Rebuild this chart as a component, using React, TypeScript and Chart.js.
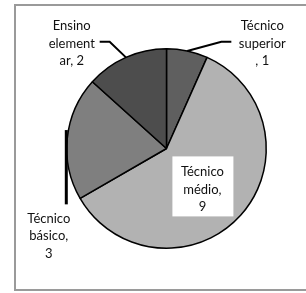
import React, { useEffect, useRef } from "react";
import { Chart, registerables } from "chart.js";

Chart.register(...registerables);

const categories = ["Técnico superior", "Técnico médio", "Técnico básico", "Ensino elementar"];
const values = [1, 9, 3, 2];
const labelLines = [
  ["Técnico", "superior", ", 1"],
  ["Técnico", "médio,", "9"],
  ["Técnico", "básico,", "3"],
  ["Ensino", "element", "ar, 2"],
];
const colors = ["#5f5f5f", "#b2b2b2", "#7f7f7f", "#4d4d4d"];

// label placement relative to pie center, in radius units
const labelPos = [
  { dx: 0.96, dy: -1.05 },
  { dx: 0.36, dy: 0.41 },
  { dx: -1.18, dy: 0.88 },
  { dx: -0.95, dy: -1.05 },
];

const FONT = "13px Lato, 'Open Sans', sans-serif";
const LINE_H = 17.5;

const labelPlugin = {
  id: "excelLabels",
  beforeDraw(chart: any) {
    const ctx = chart.ctx;
    ctx.save();
    ctx.fillStyle = "#ffffff";
    ctx.fillRect(0, 0, chart.width, chart.height);
    ctx.strokeStyle = "#9a9a9a";
    ctx.lineWidth = 2;
    ctx.strokeRect(15, 5, chart.width + 20, chart.height - 8);
    ctx.restore();
  },
  afterDraw(chart: any) {
    const ctx = chart.ctx;
    const meta = chart.getDatasetMeta(0);
    ctx.save();
    ctx.font = FONT;
    ctx.textAlign = "center";
    ctx.textBaseline = "middle";
    meta.data.forEach((arc: any, i: number) => {
      const { x, y, outerRadius: r, startAngle, endAngle } = arc.getProps(
        ["x", "y", "outerRadius", "startAngle", "endAngle"],
        true
      );
      const mid = (startAngle + endAngle) / 2;
      const ex = x + Math.cos(mid) * r;
      const ey = y + Math.sin(mid) * r;
      const lx = x + labelPos[i].dx * r;
      const ly = y + labelPos[i].dy * r;
      const lines = labelLines[i];
      // leader lines
      ctx.strokeStyle = "#000";
      ctx.lineWidth = 2;
      ctx.beginPath();
      if (i === 0) {
        ctx.moveTo(ex, ey);
        ctx.lineTo(lx - 0.41 * r, ly - 0.02 * r);
        ctx.lineTo(lx - 0.31 * r, ly - 0.02 * r);
        ctx.stroke();
      } else if (i === 3) {
        ctx.moveTo(ex, ey);
        ctx.lineTo(lx + 0.38 * r, ly - 0.02 * r);
        ctx.lineTo(lx + 0.28 * r, ly - 0.02 * r);
        ctx.stroke();
      } else if (i === 2) {
        ctx.lineWidth = 3;
        ctx.moveTo(ex - 1, ey - 8);
        ctx.lineTo(ex - 1, ly - 0.32 * r);
        ctx.stroke();
      }
      if (i === 1) {
        ctx.fillStyle = "#ffffff";
        ctx.fillRect(lx - 30, ly - 33, 61, 60);
      }
      ctx.fillStyle = "#111111";
      lines.forEach((t, k) => {
        ctx.fillText(t, lx, ly + (k - 1) * LINE_H);
      });
    });
    ctx.restore();
  },
};

export default function App() {
  const ref = useRef<HTMLCanvasElement>(null);
  useEffect(() => {
    document.body.style.margin = "0";
    const chart = new Chart(ref.current!, {
      type: "pie",
      data: {
        labels: categories,
        datasets: [
          {
            data: values,
            backgroundColor: colors,
            borderColor: "#000000",
            borderWidth: 1.5,
          },
        ],
      },
      options: {
        animation: false,
        responsive: false,
        layout: { padding: { left: 66, right: 39, top: 48, bottom: 44 } },
        plugins: { legend: { display: false }, tooltip: { enabled: false } },
      },
      plugins: [labelPlugin],
    });
    return () => chart.destroy();
  }, []);
  return (
    <div style={{ width: 306, height: 293 }}>
      <canvas ref={ref} width={306} height={293} style={{ display: "block" }} />
    </div>
  );
}
